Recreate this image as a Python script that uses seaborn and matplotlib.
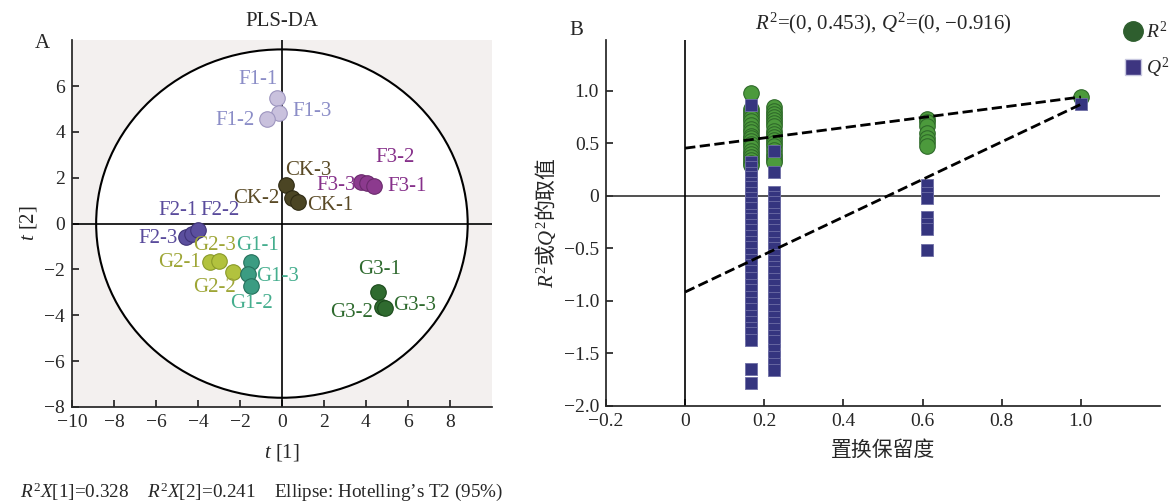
import numpy as np
import pandas as pd
import seaborn as sns
import matplotlib
matplotlib.use("Agg")
import matplotlib.pyplot as plt
from matplotlib.patches import Ellipse
from matplotlib.lines import Line2D

sns.set_theme(style="ticks")
plt.rcParams['font.family'] = ['Liberation Serif', 'Noto Sans CJK SC', 'DejaVu Sans']
plt.rcParams['mathtext.fontset'] = 'custom'
plt.rcParams['mathtext.rm'] = 'Liberation Serif'
plt.rcParams['mathtext.it'] = 'Liberation Serif:italic'
plt.rcParams['mathtext.sf'] = 'Noto Sans CJK SC'  # used for the Chinese label
plt.rcParams['axes.unicode_minus'] = True

# ------------------ DATA: PLS-DA scores ------------------
samples = ["F1-1", "F1-3", "F1-2", "CK-3", "CK-2", "CK-1",
           "F3-3", "F3-2", "F3-1", "F2-3", "F2-1", "F2-2",
           "G2-1", "G2-3", "G2-2", "G1-1", "G1-3", "G1-2",
           "G3-1", "G3-2", "G3-3"]
groups = ["F1"] * 3 + ["CK"] * 3 + ["F3"] * 3 + ["F2"] * 3 + ["G2"] * 3 + ["G1"] * 3 + ["G3"] * 3
t1 = [-0.24, -0.13, -0.70, 0.19, 0.46, 0.75,
      3.75, 4.03, 4.38, -4.57, -4.30, -4.00,
      -3.43, -3.00, -2.35, -1.49, -1.60, -1.49,
      4.60, 4.75, 4.90]
t2 = [5.48, 4.83, 4.55, 1.70, 1.12, 0.93,
      1.83, 1.75, 1.65, -0.60, -0.45, -0.27,
      -1.68, -1.65, -2.12, -1.68, -2.20, -2.72,
      -3.00, -3.65, -3.70]

# ------------------ DATA: permutation test ------------------
perm_x1 = 0.167
perm_r2_1 = [0.98, 0.83, 0.80, 0.77, 0.74, 0.71, 0.67, 0.64, 0.61, 0.57, 0.55,
             0.52, 0.49, 0.46, 0.43, 0.40, 0.37, 0.34, 0.31, 0.29]
perm_q2_1 = [0.86, 0.32, 0.27, 0.22, 0.18, 0.12, 0.08, 0.03, -0.02, -0.07, -0.12,
             -0.18, -0.22, -0.28, -0.33, -0.38, -0.44, -0.49, -0.55, -0.61, -0.66,
             -0.72, -0.78, -0.85, -0.90, -0.96, -1.02, -1.08, -1.14, -1.20, -1.26,
             -1.31, -1.37, -1.65, -1.78]
perm_x2 = 0.224
perm_r2_2 = [0.84, 0.81, 0.78, 0.75, 0.72, 0.69, 0.66, 0.62, 0.59, 0.56, 0.53,
             0.50, 0.47, 0.44, 0.40, 0.37, 0.34, 0.32]
perm_q2_2 = [0.43, 0.23, 0.04, -0.01, -0.06, -0.11, -0.17, -0.22, -0.28, -0.33,
             -0.39, -0.45, -0.50, -0.56, -0.62, -0.68, -0.73, -0.79, -0.85, -0.91,
             -0.97, -1.03, -1.09, -1.15, -1.21, -1.27, -1.33, -1.38, -1.47, -1.53,
             -1.60, -1.66]
perm_x3 = 0.611
perm_r2_3 = [0.73, 0.70, 0.66, 0.60, 0.55, 0.51, 0.47]
perm_q2_3 = [0.10, 0.03, -0.02, -0.20, -0.27, -0.32, -0.52]
orig_x = 1.0
orig_r2 = 0.94
orig_q2 = 0.87
r2_intercept = 0.453
q2_intercept = -0.916

# styles
face = {"F1": "#c9c1dd", "CK": "#4b4524", "F3": "#8c3a8e", "F2": "#5b4f9e",
        "G2": "#b2c23e", "G1": "#3b9c82", "G3": "#2f6b2f"}
edge = {"F1": "#9d95bf", "CK": "#2e2a14", "F3": "#6a2a6c", "F2": "#3f3478",
        "G2": "#8a9a2a", "G1": "#25705c", "G3": "#1c4a1c"}
text_col = {"F1": "#8b8dc7", "CK": "#5a4a26", "F3": "#86308a", "F2": "#5a4b9c",
            "G2": "#9ea636", "G1": "#45ae8e", "G3": "#2e6a2e"}
label_pos = {"F1-1": (-1.14, 6.3), "F1-3": (1.43, 4.9), "F1-2": (-2.24, 4.48),
             "CK-3": (1.24, 2.3), "CK-2": (-1.2, 1.09), "CK-1": (2.29, 0.78),
             "F3-2": (5.38, 2.87), "F3-3": (2.6, 1.65), "F3-1": (5.97, 1.6),
             "F2-1": (-4.95, 0.56), "F2-2": (-2.95, 0.56), "F2-3": (-5.9, -0.65),
             "G2-3": (-3.19, -0.96), "G1-1": (-1.14, -0.96), "G2-1": (-4.86, -1.7),
             "G1-3": (-0.19, -2.3), "G2-2": (-3.19, -2.77), "G1-2": (-1.43, -3.5),
             "G3-1": (4.67, -2.0), "G3-2": (3.33, -3.9), "G3-3": (6.33, -3.56)}

scores = pd.DataFrame({"sample": samples, "group": groups, "t1": t1, "t2": t2})

fig = plt.figure(figsize=(11.71, 5.03), dpi=100)
axA = fig.add_axes([0.0615, 0.191, 0.3585, 0.729])
axB = fig.add_axes([0.5175, 0.193, 0.4731, 0.727])

# ------------------ PLOT A: PLS-DA ------------------
axA.set_facecolor("#f3f0ef")
axA.add_patch(Ellipse((0, 0), 17.7, 15.2, facecolor="white", edgecolor="black",
                      lw=1.5, zorder=1))
axA.axhline(0, color="black", lw=1.2, zorder=2)
axA.axvline(0, color="black", lw=1.2, zorder=2)
for g in face:
    sub = scores[scores["group"] == g]
    sns.scatterplot(ax=axA, data=sub, x="t1", y="t2", color=face[g],
                    edgecolor=edge[g], linewidth=0.8, s=125, zorder=3, legend=False)
for _, row in scores.iterrows():
    lx, ly = label_pos[row["sample"]]
    axA.text(lx, ly, row["sample"], color=text_col[row["group"]], fontsize=15,
             ha="center", va="center", zorder=4)
axA.set_xlim(-10, 10)
axA.set_ylim(-8, 8)
axA.set_xticks(range(-10, 10, 2))
axA.set_yticks(range(-8, 8, 2))
axA.set_xlabel("$t$ [1]", fontsize=15, labelpad=8)
axA.set_ylabel("$t$ [2]", fontsize=15, labelpad=4)
axA.set_title("PLS-DA", fontsize=15, pad=10)
axA.spines[["top", "right"]].set_visible(False)
axA.tick_params(direction="in", length=5, labelsize=14, pad=5)
fig.text(0.030, 0.905, "A", fontsize=15)
fig.text(0.017, 0.012, "$R^2X$[1]=0.328    $R^2X$[2]=0.241    Ellipse: Hotelling’s T2 (95%)",
         fontsize=13.8)

# ------------------ PLOT B: permutation test ------------------
perm = pd.DataFrame({
    "x": [perm_x1] * len(perm_r2_1) + [perm_x2] * len(perm_r2_2)
         + [perm_x3] * len(perm_r2_3) + [orig_x],
    "y": perm_r2_1 + perm_r2_2 + perm_r2_3 + [orig_r2]})
permq = pd.DataFrame({
    "x": [perm_x1] * len(perm_q2_1) + [perm_x2] * len(perm_q2_2)
         + [perm_x3] * len(perm_q2_3) + [orig_x],
    "y": perm_q2_1 + perm_q2_2 + perm_q2_3 + [orig_q2]})

axB.axhline(0, color="#333333", lw=1.2, zorder=1)
axB.axvline(0, color="black", lw=1.2, zorder=1)
sns.scatterplot(ax=axB, data=perm, x="x", y="y", marker="o", s=125,
                color="#4c9a3c", edgecolor="#2f6a2a", linewidth=0.8, zorder=2, legend=False)
sns.scatterplot(ax=axB, data=permq, x="x", y="y", marker="s", s=85,
                color="#35357f", edgecolor="#6e6ea6", linewidth=0.6, zorder=3, legend=False)
axB.plot([0, orig_x], [r2_intercept, orig_r2], ls="--", color="black", lw=2, zorder=4)
axB.plot([0, orig_x], [q2_intercept, orig_q2], ls="--", color="black", lw=2, zorder=4)
axB.set_xlim(-0.2, 1.2)
axB.set_ylim(-2.0, 1.48)
axB.set_xticks([-0.2, 0, 0.2, 0.4, 0.6, 0.8, 1.0])
axB.set_xticklabels(["−0.2", "0", "0.2", "0.4", "0.6", "0.8", "1.0"])
axB.set_yticks([-2.0, -1.5, -1.0, -0.5, 0, 0.5, 1.0])
axB.set_yticklabels(["−2.0", "−1.5", "−1.0", "−0.5", "0", "0.5", "1.0"])
axB.set_xlabel("置换保留度", fontsize=15, labelpad=8)
axB.set_ylabel(r"$R^2\mathsf{或}Q^2\mathsf{的取值}$", fontsize=15, labelpad=4)
axB.set_title("$R^2$=(0, 0.453), $Q^2$=(0, −0.916)", fontsize=15, pad=8)
axB.spines[["top", "right"]].set_visible(False)
axB.tick_params(direction="in", length=5, labelsize=14, pad=5)
fig.text(0.486, 0.93, "B", fontsize=15)

handles = [Line2D([], [], marker="o", ls="", markersize=14, markerfacecolor="#2e5e2e",
                  markeredgecolor="#2e5e2e"),
           Line2D([], [], marker="s", ls="", markersize=12, markerfacecolor="#3d3580",
                  markeredgecolor="#c8c8e0")]
fig.legend(handles, ["$R^2$", "$Q^2$"], loc="upper left", bbox_to_anchor=(0.944, 0.99),
           frameon=False, fontsize=14, handletextpad=0.1, labelspacing=0.7,
           handlelength=1.2, borderpad=0.3)

fig.savefig("out.png", dpi=100)
